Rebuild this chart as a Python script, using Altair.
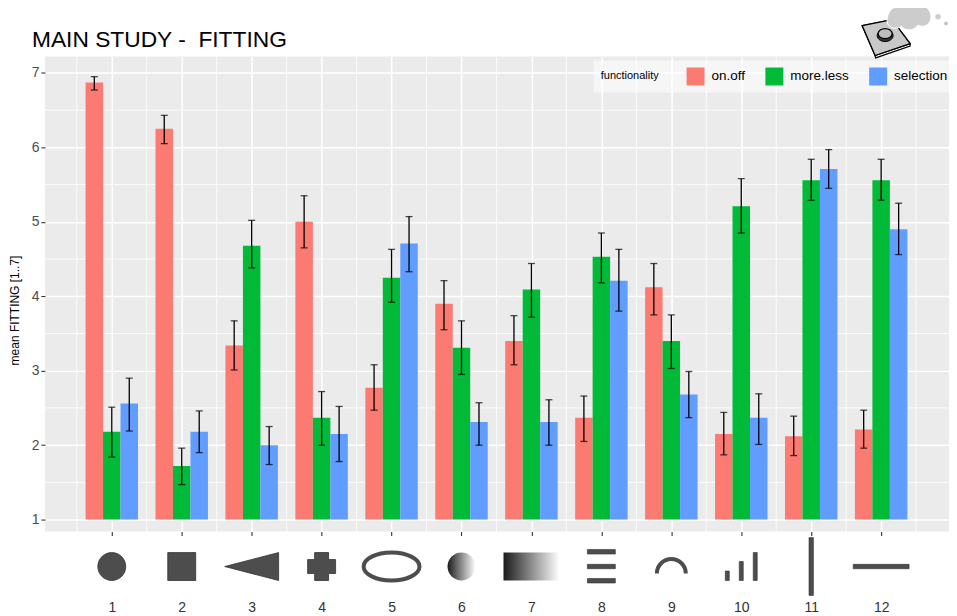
import altair as alt
import pandas as pd

FONT = "Liberation Sans"

conditions = list(range(1, 13))
functionality = ["on.off", "more.less", "selection"]
colors = ["#FB7B73", "#00BA38", "#619CFF"]

on_off = [6.87, 6.25, 3.34, 5.00, 2.77, 3.90, 3.40, 2.37, 4.12, 2.15, 2.12, 2.21]
on_off_low = [6.77, 6.05, 3.01, 4.65, 2.47, 3.55, 3.08, 2.05, 3.75, 1.87, 1.86, 1.96]
on_off_high = [6.95, 6.43, 3.67, 5.35, 3.08, 4.21, 3.74, 2.66, 4.44, 2.44, 2.39, 2.47]

more_less = [2.18, 1.72, 4.68, 2.37, 4.25, 3.31, 4.09, 4.53, 3.40, 5.21, 5.56, 5.56]
more_less_low = [1.84, 1.47, 4.38, 2.00, 3.92, 2.95, 3.72, 4.18, 3.03, 4.85, 5.29, 5.29]
more_less_high = [2.51, 1.96, 5.02, 2.72, 4.63, 3.67, 4.44, 4.85, 3.75, 5.58, 5.84, 5.84]

selection = [2.56, 2.18, 2.00, 2.15, 4.71, 2.31, 2.31, 4.21, 2.68, 2.37, 5.71, 4.90]
selection_low = [2.19, 1.90, 1.74, 1.78, 4.33, 2.00, 2.00, 3.80, 2.37, 2.01, 5.45, 4.56]
selection_high = [2.90, 2.46, 2.25, 2.52, 5.07, 2.57, 2.61, 4.63, 2.99, 2.69, 5.97, 5.25]

x_minor = [0.5 + i for i in range(13)]
y_major = [1, 2, 3, 4, 5, 6, 7]
y_minor = [1.5, 2.5, 3.5, 4.5, 5.5, 6.5]

rows = []
for s, (name, vals, lows, highs) in enumerate([
    ("on.off", on_off, on_off_low, on_off_high),
    ("more.less", more_less, more_less_low, more_less_high),
    ("selection", selection, selection_low, selection_high),
]):
    for c, v, lo, hi in zip(conditions, vals, lows, highs):
        rows.append({
            "condition": c,
            "functionality": name,
            "mean": v,
            "base": 1,
            "low": lo,
            "high": hi,
            "left": c + (s - 1.5) * 0.25,
            "right": c + (s - 0.5) * 0.25,
            "mid": c + (s - 1) * 0.25,
        })
df = pd.DataFrame(rows)

x_scale = alt.Scale(domain=[0.044, 12.97], nice=False, zero=False)
y_scale = alt.Scale(domain=[0.84, 7.22], nice=False, zero=False)

# minor grid
x_grid = alt.Chart(pd.DataFrame({"v": x_minor})).mark_rule(color="white", strokeWidth=0.8).encode(
    x=alt.X("v:Q", scale=x_scale, title=None,
            axis=alt.Axis(values=conditions, format="d", grid=True, gridColor="white", gridWidth=1.5,
                          domain=False, tickSize=4, tickColor="#333333", tickWidth=1.1,
                          labelFont=FONT, labelFontSize=14, labelColor="#333333",
                          labelPadding=65))
)
y_grid = alt.Chart(pd.DataFrame({"v": y_minor})).mark_rule(color="white", strokeWidth=0.8).encode(
    y=alt.Y("v:Q", scale=y_scale, title="mean FITTING [1..7]",
            axis=alt.Axis(values=y_major, format="d", grid=True, gridColor="white", gridWidth=1.5,
                          domain=False, tickSize=4, tickColor="#333333", tickWidth=1.1,
                          labelFont=FONT, labelFontSize=14, labelColor="#4D4D4D", labelPadding=2,
                          titleFont=FONT, titleFontSize=12, titleFontWeight="normal", titleColor="black",
                          titleX=-23, titleY=254))
)

bars = alt.Chart(df).mark_bar(strokeWidth=0).encode(
    x=alt.X("left:Q", scale=x_scale),
    x2="right:Q",
    y=alt.Y("mean:Q", scale=y_scale),
    y2="base:Q",
    color=alt.Color(
        "functionality:N",
        scale=alt.Scale(domain=functionality, range=colors),
        legend=alt.Legend(
            orient="none", legendX=550, legendY=4, direction="horizontal", columns=3,
            title="functionality", titleOrient="left", titleFont=FONT, titleFontSize=11,
            titleFontWeight="normal", titleColor="black", titlePadding=27,
            labelFont=FONT, labelFontSize=13.5, labelColor="black", labelOffset=7,
            symbolType="square", symbolSize=324, symbolStrokeWidth=0, symbolOpacity=1,
            columnPadding=20, padding=7, fillColor="rgba(255,255,255,0.55)",
        ),
    ),
)

err = alt.Chart(df).mark_rule(color="black", strokeWidth=1.3).encode(
    x=alt.X("mid:Q", scale=x_scale),
    y=alt.Y("low:Q", scale=y_scale),
    y2="high:Q",
)
cap_low = alt.Chart(df).mark_tick(color="black", thickness=1.3, size=7, orient="horizontal").encode(
    x=alt.X("mid:Q", scale=x_scale),
    y=alt.Y("low:Q", scale=y_scale),
)
cap_high = alt.Chart(df).mark_tick(color="black", thickness=1.3, size=7, orient="horizontal").encode(
    x=alt.X("mid:Q", scale=x_scale),
    y=alt.Y("high:Q", scale=y_scale),
)


# pictograms under the axis, path units are 1/30 of a pixel box
def u(*pts):
    return [round(p / 30, 4) for p in pts]


def rect(x0, y0, x1, y1):
    a, b, c, d = u(x0, y0, x1, y1)
    return f"M{a},{b}L{c},{b}L{c},{d}L{a},{d}Z"


def oval(rx, ry):
    a, b = u(rx, ry)
    return f"M{-a},0A{a},{b} 0 1 1 {a},0A{a},{b} 0 1 1 {-a},0Z"


arc_path = "M-0.483,0.233A0.483,0.483 0 0 1 0.483,0.233"
triangle_path = "M-0.9,0L0.9,-0.467L0.9,0.467Z"
cross_path = ("M-0.233,-0.467L0.233,-0.467L0.233,-0.233L0.467,-0.233L0.467,0.233L0.233,0.233"
              "L0.233,0.467L-0.233,0.467L-0.233,0.233L-0.467,0.233L-0.467,-0.233L-0.233,-0.233Z")

fade = alt.Gradient(gradient="linear", x1=0, x2=1, y1=0, y2=0,
                    stops=[alt.GradientStop(color="#1a1a1a", offset=0),
                           alt.GradientStop(color="white", offset=1)])
DARK = "#4D4D4D"
EDGE = "#333333"

pictograms = [
    (1, oval(14, 14), {"fill": DARK, "stroke": EDGE, "strokeWidth": 0.8}),
    (2, rect(-14, -14, 14, 14), {"fill": DARK, "stroke": EDGE, "strokeWidth": 0.8}),
    (3, triangle_path, {"fill": DARK, "stroke": EDGE, "strokeWidth": 0.8}),
    (4, cross_path, {"fill": DARK, "stroke": EDGE, "strokeWidth": 0.8}),
    (5, oval(28, 14), {"stroke": DARK, "strokeWidth": 4}),
    (6, oval(14, 14), {"fill": fade, "strokeWidth": 0}),
    (7, rect(-28, -14, 28, 14), {"fill": fade, "strokeWidth": 0}),
    (8, rect(-14, -17, 14, -12.5) + rect(-14, -2.2, 14, 2.2) + rect(-14, 12, 14, 16.5),
     {"fill": DARK, "stroke": EDGE, "strokeWidth": 0.6}),
    (9, arc_path, {"stroke": DARK, "strokeWidth": 4}),
    (10, rect(-16, 4.5, -12, 14) + rect(-2, -5, 2, 14) + rect(12, -14, 16, 14),
     {"fill": DARK, "stroke": EDGE, "strokeWidth": 0.6}),
    (11, rect(-2.2, -29, 2.2, 29), {"fill": DARK, "stroke": EDGE, "strokeWidth": 0.6}),
    (12, rect(-28, -2.2, 28, 2.2), {"fill": DARK, "stroke": EDGE, "strokeWidth": 0.6}),
]

shape_layers = []
for cond, path, style in pictograms:
    filled = "fill" in style
    shape_layers.append(
        alt.Chart(pd.DataFrame({"c": [cond], "row": [0.37]}))
        .mark_point(shape=path, size=3600, opacity=1, filled=filled, **style)
        .encode(x=alt.X("c:Q", scale=x_scale), y=alt.Y("row:Q", scale=y_scale))
    )

# logo top right
cloud_path = ("M-1,0.1C-1,-0.3 -0.75,-0.6 -0.45,-0.5C-0.3,-0.8 0.2,-0.8 0.35,-0.55C0.7,-0.7 1,-0.4 1,-0.1"
              "C1,0.25 0.7,0.45 0.4,0.3C0.2,0.6 -0.2,0.55 -0.35,0.35C-0.65,0.55 -1,0.4 -1,0.1Z")
logo_parts = [
    ("M-0.8,-0.4L0.2,-0.6L0.8,0.2L-0.37,0.6L-0.35,0.68L0.8,0.28L0.8,0.2L-0.37,0.6Z", 888, 37, 3600, "white", "black", 1.2),
    ("M-0.8,-0.4L0.2,-0.6L0.8,0.2L-0.37,0.6Z", 888, 37, 3600, "#C9C9C9", "black", 1.3),
    (oval(8, 6), 887, 35, 3600, "#333333", "black", 1),
    (oval(7, 5), 887, 33, 3600, "#BDBDBD", "black", 1.2),
    (cloud_path, 911, 18, 1936, "#CCCCCC", "white", 1),
    (oval(30, 30), 940, 16, 36, "#CCCCCC", "white", 0.5),
    (oval(30, 30), 948, 23, 16, "#BBBBBB", "white", 0.5),
]
logo_layers = [
    alt.Chart(pd.DataFrame({"a": [0]}))
    .mark_point(shape=p, size=sz, opacity=1, filled=True, fill=f, stroke=st, strokeWidth=sw)
    .encode(x=alt.value(px - 45), y=alt.value(py - 56))
    for p, px, py, sz, f, st, sw in logo_parts
]

chart = alt.layer(
    x_grid, y_grid, bars, err, cap_low, cap_high, *shape_layers, *logo_layers
).resolve_scale(x="shared", y="shared").properties(
    width=906,
    height=476,
    padding={"left": 37, "top": 48, "right": 0, "bottom": 84},
    autosize=alt.AutoSizeParams(type="none"),
    title=alt.TitleParams(
        "MAIN STUDY -\u00a0 FITTING", anchor="start", frame="group", dx=-13, dy=57, offset=6,
        font=FONT, fontSize=22.8, fontWeight="normal", color="black",
    ),
).configure_view(fill="#EBEBEB", stroke=None)

chart.save("out.html", embed_options={"renderer": "svg", "actions": False})
